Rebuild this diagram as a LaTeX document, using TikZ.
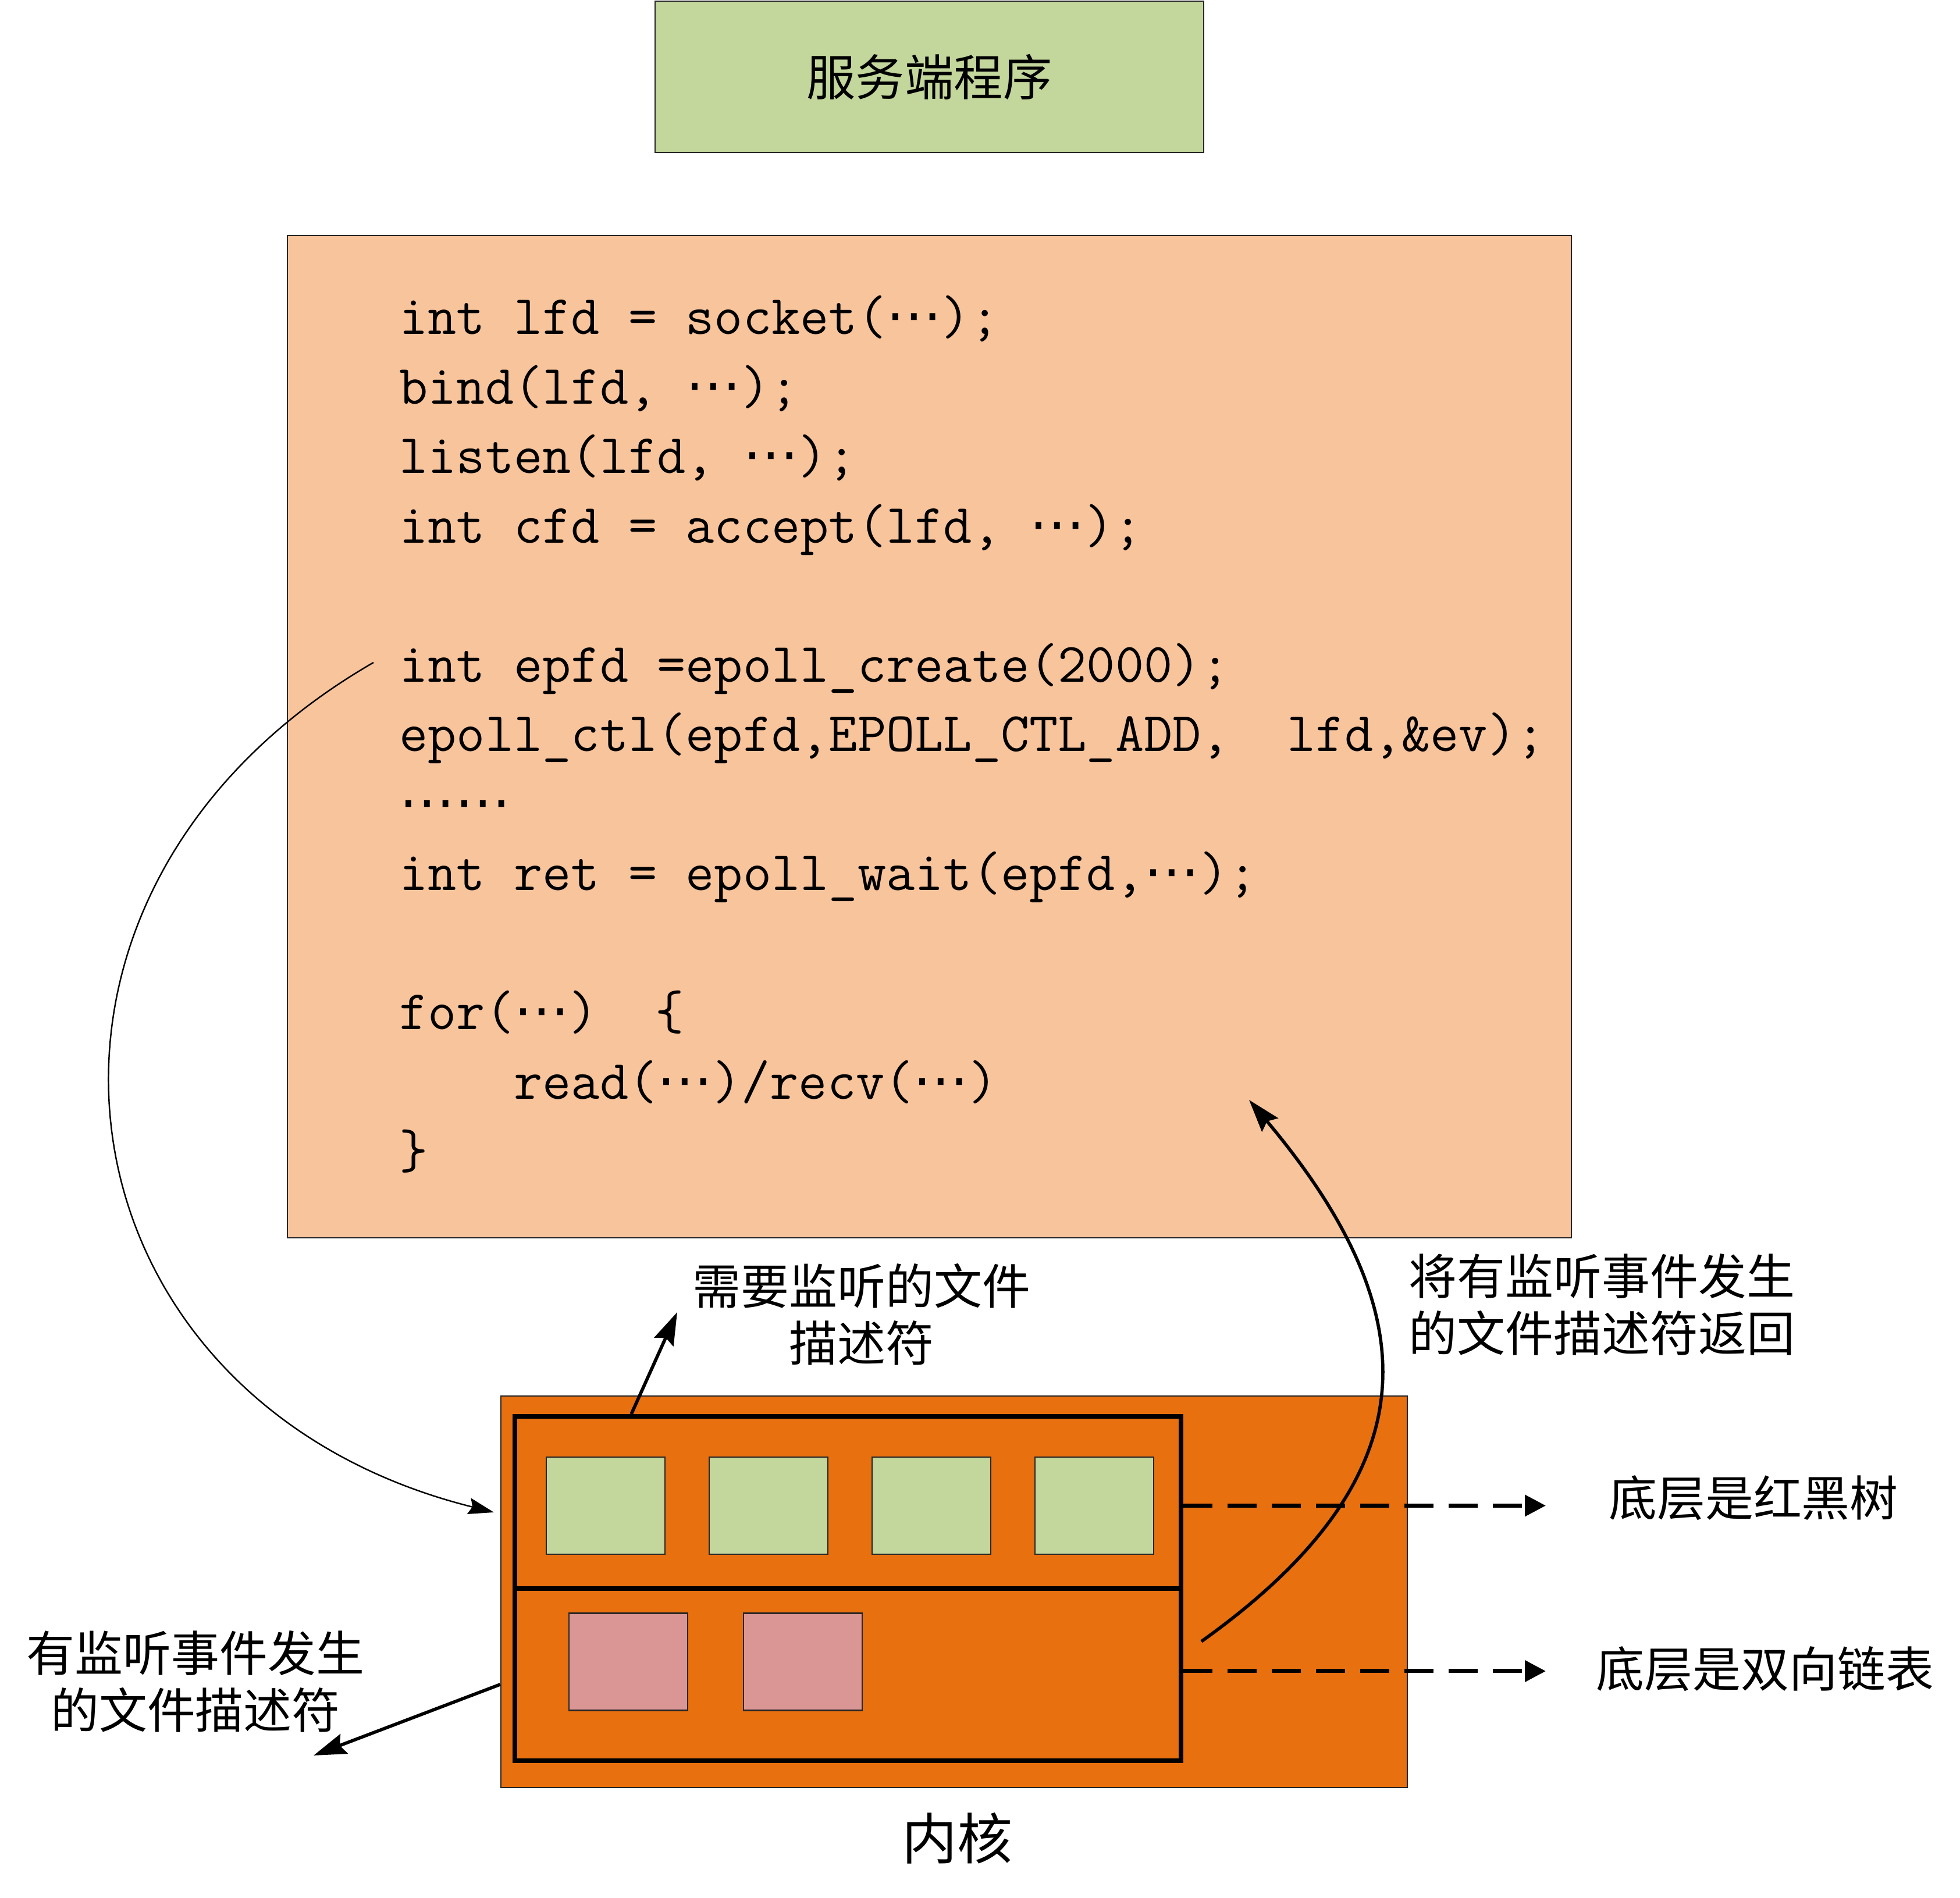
\documentclass[tikz,border=0pt]{standalone}
\usepackage{fontspec}
\newfontfamily\cjk{Noto Sans CJK SC}
\newfontfamily\symf{DejaVu Sans}
\usepackage{xcolor}
\usetikzlibrary{arrows.meta,positioning,calc}
\definecolor{srvgreen}{HTML}{C3D69B}
\definecolor{codebg}{HTML}{F8C49C}
\definecolor{kernbg}{HTML}{E8700F}
\definecolor{fdpink}{HTML}{D99694}
\newcommand{\dts}{{\symf ⋯}}

\begin{document}
\begin{tikzpicture}[
  box/.style={rectangle, draw=black!85, line width=0.4pt, inner sep=0pt},
  slot/.style={box, minimum width=1.02cm, minimum height=0.835cm},
  frm/.style={rectangle, draw=black, line width=1.1pt, minimum width=5.725cm,
    minimum height=1.48cm, inner sep=0pt},
  cl/.style={anchor=base west, inner sep=0pt,
    font=\ttfamily\fontsize{13.6pt}{15pt}\selectfont},
  lbl/.style={font=\cjk\fontsize{11.8pt}{14pt}\selectfont, align=center, inner sep=0pt},
  dsh/.style={dash pattern=on 0.25cm off 0.13cm, line width=1pt,
    -{Triangle[length=0.18cm, width=0.18cm]}},
  arr/.style={line width=0.8pt, -{Stealth[length=0.28cm, width=0.18cm, inset=0.04cm]}}
]
\useasboundingbox (0,0) rectangle (16.845,16.315);

% Top: program and its code
\node[box, fill=srvgreen, minimum width=4.715cm, minimum height=1.30cm,
  font=\cjk\fontsize{12pt}{14pt}\selectfont] (srv) at (7.9875,15.655) {服务端程序};
\node[box, fill=codebg, minimum width=11.035cm, minimum height=8.615cm] (prog) at (7.9875,9.9825) {};

\node[cl] (c1) at (3.425,13.44) {int lfd = socket(\dts);};
\node[cl] (c2) at (3.425,12.8425) {bind(lfd, \dts);};
\node[cl] (c3) at (3.425,12.245) {listen(lfd, \dts);};
\node[cl] (c4) at (3.425,11.6475) {int cfd = accept(lfd, \dts);};
\node[cl] (c6) at (3.425,10.4525) {int epfd =epoll\_create(2000);};
\node[cl] (c7) at (3.425,9.855) {epoll\_ctl(epfd,EPOLL\_CTL\_ADD,~~lfd,\&ev);};
\node[cl] (c8) at (3.425,9.2575) {\dts\dts};
\node[cl] (c9) at (3.425,8.66) {int ret = epoll\_wait(epfd,\dts);};
\node[cl] (c11) at (3.425,7.465) {for(\dts)~~\{};
\node[cl] (c12) at (3.425,6.8675) {~~~~read(\dts)/recv(\dts)};
\node[cl] (c13) at (3.425,6.27) {\}};

% Bottom: kernel
\node[box, fill=kernbg, minimum width=7.79cm, minimum height=3.365cm] (kern) at (8.2,2.6325) {};
\node[frm] (rbt) at (7.2875,3.40) {};
\node[frm] (rdl) at (7.2875,1.92) {};
\foreach \i/\x in {1/5.205,2/6.605,3/8.005,4/9.405}
  \node[slot, fill=srvgreen] (g\i) at (\x,3.3725) {};
\foreach \i/\x in {1/5.40,2/6.90}
  \node[slot, fill=fdpink] (p\i) at (\x,2.03) {};

% Labels
\node[lbl] (need) at (7.405,5.015) {需要监听的文件\\描述符};
\node[lbl, align=left, anchor=west] (ret) at (12.10,5.10) {将有监听事件发生\\的文件描述符返回};
\node[lbl] (ev) at (1.68,1.86) {有监听事件发生\\的文件描述符};
\node[lbl] (rbtl) at (15.07,3.44) {底层是红黑树};
\node[lbl] (rdll) at (15.17,1.97) {底层是双向链表};
\node[lbl, font=\cjk\fontsize{13.5pt}{16pt}\selectfont] (kernl) at (8.225,0.515) {内核};

% Free ends
\coordinate (epS) at (3.21,10.62);
\coordinate (epT) at (4.245,3.315);
\coordinate (upS) at ([xshift=1.02cm]rbt.north west);
\coordinate (upT) at (5.82,5.035);
\coordinate (evS) at ([yshift=-0.7975cm]kern.west);
\coordinate (evT) at (2.695,1.225);
\coordinate (rtS) at (10.325,2.205);
\coordinate (rtT) at (10.735,6.86);
\coordinate (rbtT) at (13.285,3.3725);
\coordinate (rdlT) at (13.285,1.95);

% Connectors
\draw[dsh] (rbt.east |- g1.east) -- (rbtT);
\draw[dsh] ([yshift=0.03cm]rdl.east) -- (rdlT);
\draw[arr] (upS) -- (upT);
\draw[arr] (evS) -- (evT);
\draw[arr] (rtS) .. controls +(35.5:2.43cm) and +(310:2.43cm) .. (rtT);
\draw[line width=0.35pt, -{Stealth[length=0.22cm, width=0.14cm, inset=0.03cm]}]
  (epS) .. controls +(210:3.985cm) and +(166:3.985cm) .. (epT);

\end{tikzpicture}
\end{document}
